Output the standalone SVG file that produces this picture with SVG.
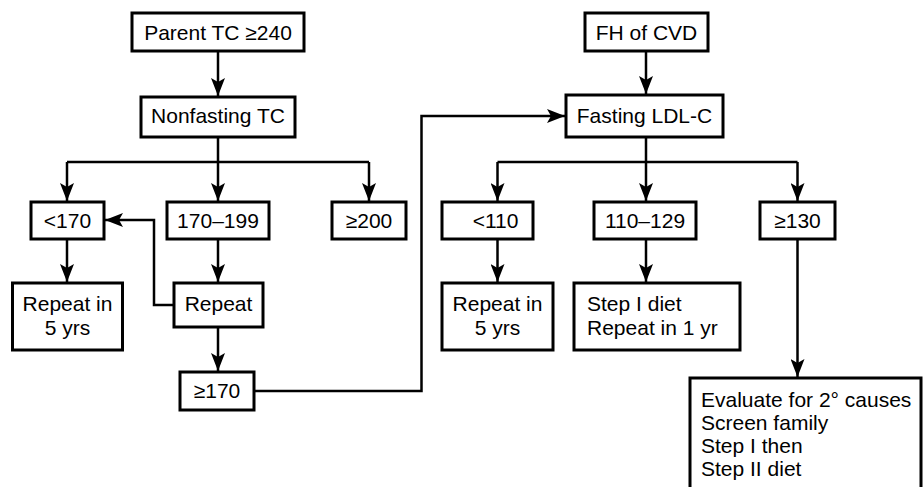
<svg xmlns="http://www.w3.org/2000/svg" width="924" height="487" viewBox="0 0 924 487">
<style>
.box{fill:#fff;stroke:#000;stroke-width:3}
.t{font-family:"Liberation Sans",Arial,sans-serif;font-size:21px;fill:#000}
.c{text-anchor:middle}
.ln{fill:none;stroke:#000;stroke-width:2.5}
.ar{fill:none;stroke:#000;stroke-width:2.5;marker-end:url(#ah)}
</style>
<defs>
<marker id="ah" markerWidth="18" markerHeight="14" refX="18" refY="7" orient="auto" markerUnits="userSpaceOnUse">
<path d="M0,0 L18,7 L0,14 L4,7 z" fill="#000"/>
</marker>
</defs>
<rect width="924" height="487" fill="#fff"/>
<g id="connectors">
<path class="ar" d="M218,51 V96"/>
<path class="ln" d="M218,137 V162 M67,162 H369"/>
<path class="ar" d="M67,162 V201"/>
<path class="ar" d="M218,162 V201"/>
<path class="ar" d="M369,162 V201"/>
<path class="ar" d="M67,239 V282"/>
<path class="ar" d="M218,239 V282"/>
<path class="ar" d="M174,305 H154 V220 H105"/>
<path class="ar" d="M218,327 V371"/>
<path class="ar" d="M254,391 H421.5 V116 H565"/>
<path class="ar" d="M646,51 V94"/>
<path class="ln" d="M646,137 V162 M497.5,162 H797.5"/>
<path class="ar" d="M497.5,162 V201"/>
<path class="ar" d="M646,162 V201"/>
<path class="ar" d="M797.5,162 V201"/>
<path class="ar" d="M497.5,239 V282"/>
<path class="ar" d="M646,239 V282"/>
<path class="ar" d="M797.5,239 V377"/>
</g>
<g id="parent-tc"><rect class="box" x="132" y="13" width="172" height="38"/><text class="t c" x="218" y="39.5">Parent TC ≥240</text></g>
<g id="nonfasting-tc"><rect class="box" x="141" y="97" width="154" height="40"/><text class="t c" x="218" y="122.5">Nonfasting TC</text></g>
<g id="lt170"><rect class="box" x="31" y="202" width="73" height="37"/><text class="t c" x="67.5" y="228">&lt;170</text></g>
<g id="r170-199"><rect class="box" x="167" y="202" width="102" height="37"/><text class="t c" x="218" y="228">170–199</text></g>
<g id="ge200"><rect class="box" x="332" y="202" width="74" height="37"/><text class="t c" x="369" y="228">≥200</text></g>
<g id="repeat5-left"><rect class="box" x="12.5" y="283" width="110" height="67"/><text class="t c" x="67.5" y="311">Repeat in</text><text class="t c" x="67.5" y="334.5">5 yrs</text></g>
<g id="repeat"><rect class="box" x="174" y="283" width="89" height="44"/><text class="t c" x="218.5" y="311">Repeat</text></g>
<g id="ge170"><rect class="box" x="180" y="372" width="74" height="38"/><text class="t c" x="217" y="398">≥170</text></g>
<g id="fh-cvd"><rect class="box" x="585" y="13" width="123" height="38"/><text class="t c" x="646.5" y="39.5">FH of CVD</text></g>
<g id="fasting-ldl"><rect class="box" x="566" y="95" width="157" height="42"/><text class="t c" x="644.5" y="122.5">Fasting LDL-C</text></g>
<g id="lt110"><rect class="box" x="442" y="202" width="91" height="37"/><text class="t c" x="495.5" y="228">&lt;110</text></g>
<g id="r110-129"><rect class="box" x="594" y="202" width="102" height="37"/><text class="t c" x="645" y="228">110–129</text></g>
<g id="ge130"><rect class="box" x="760" y="202" width="75" height="37"/><text class="t c" x="797.5" y="228">≥130</text></g>
<g id="repeat5-right"><rect class="box" x="442" y="283" width="111" height="67"/><text class="t c" x="497.5" y="311">Repeat in</text><text class="t c" x="497.5" y="334.5">5 yrs</text></g>
<g id="step1"><rect class="box" x="574" y="283" width="166" height="67"/><text class="t" x="587" y="311">Step I diet</text><text class="t" x="587" y="334.5">Repeat in 1 yr</text></g>
<g id="evaluate"><rect class="box" x="690" y="378" width="231" height="130"/><text class="t" x="701" y="406.5">Evaluate for 2° causes</text><text class="t" x="701" y="430">Screen family</text><text class="t" x="701" y="453">Step I then</text><text class="t" x="701" y="476">Step II diet</text></g>
</svg>
